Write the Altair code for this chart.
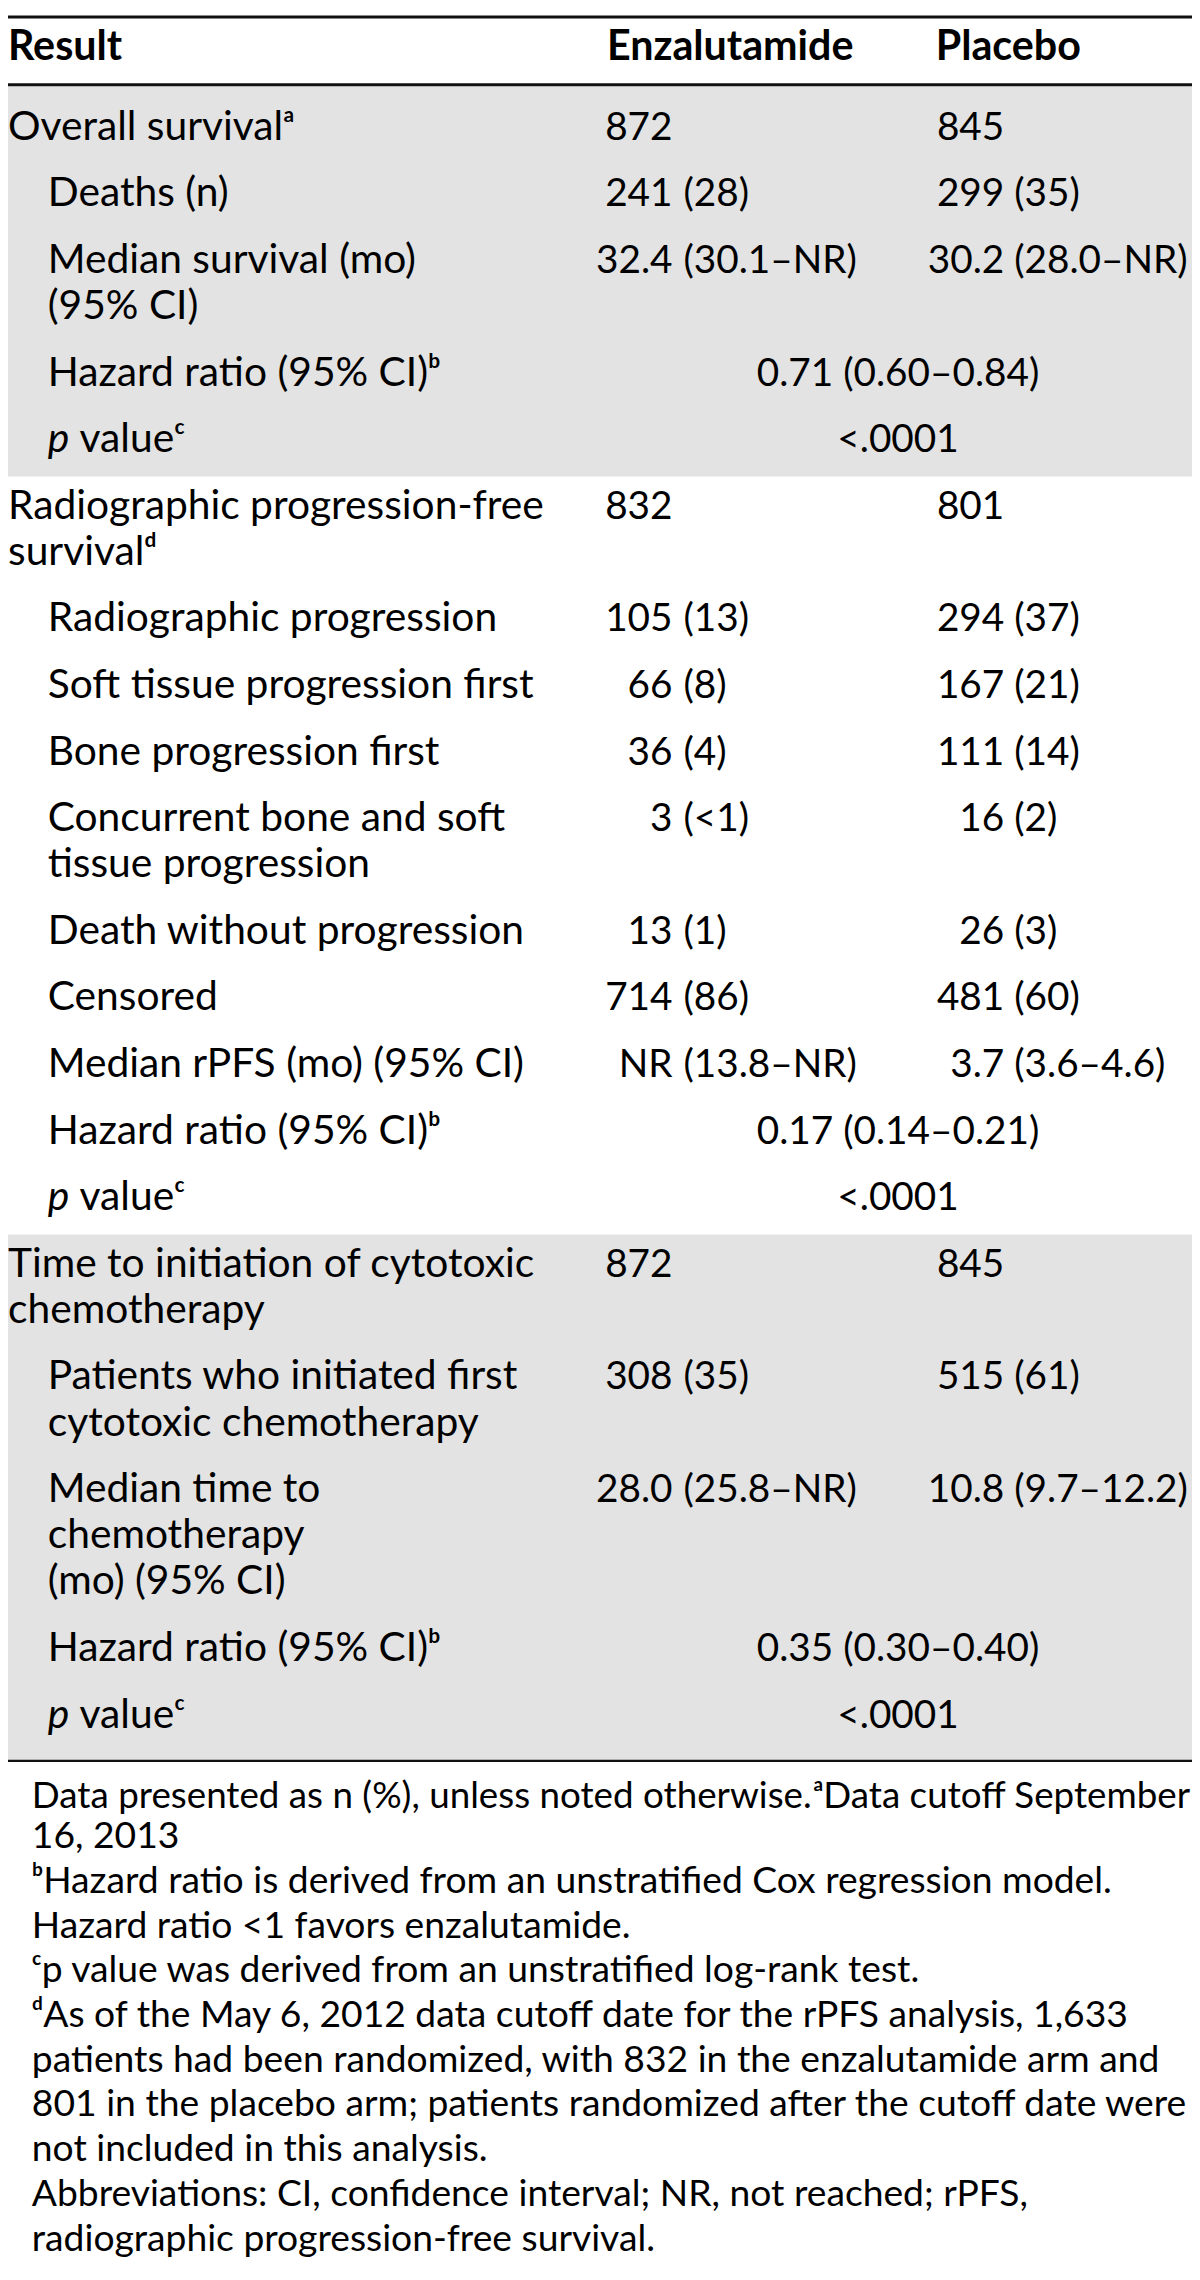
import altair as alt
import pandas as pd

# ---------------- content ----------------
HEADER = ["Result", "Enzalutamide", "Placebo"]

ROW_LABELS = [
    "Overall survivalᵃ",
    "Deaths (n)",
    "Median survival (mo)\n(95% CI)",
    "Hazard ratio (95% CI)ᵇ",
    "p valueᶜ",
    "Radiographic progression-free\nsurvivalᵈ",
    "Radiographic progression",
    "Soft tissue progression first",
    "Bone progression first",
    "Concurrent bone and soft\ntissue progression",
    "Death without progression",
    "Censored",
    "Median rPFS (mo) (95% CI)",
    "Hazard ratio (95% CI)ᵇ",
    "p valueᶜ",
    "Time to initiation of cytotoxic\nchemotherapy",
    "Patients who initiated first\ncytotoxic chemotherapy",
    "Median time to\nchemotherapy\n(mo) (95% CI)",
    "Hazard ratio (95% CI)ᵇ",
    "p valueᶜ",
]
ROW_LEVEL = [0, 1, 1, 1, 1,
             0, 1, 1, 1, 1, 1, 1, 1, 1, 1,
             0, 1, 1, 1, 1]
ROW_SECTION = [0] * 5 + [1] * 10 + [2] * 5
SECTION_SHADED = [True, False, True]

ENZ_VALUES = ["872", "241 (28)", "32.4 (30.1–NR)", "", "",
              "832", "105 (13)", "66 (8)", "36 (4)", "3 (<1)", "13 (1)",
              "714 (86)", "NR (13.8–NR)", "", "",
              "872", "308 (35)", "28.0 (25.8–NR)", "", ""]
PLA_VALUES = ["845", "299 (35)", "30.2 (28.0–NR)", "", "",
              "801", "294 (37)", "167 (21)", "111 (14)", "16 (2)", "26 (3)",
              "481 (60)", "3.7 (3.6–4.6)", "", "",
              "845", "515 (61)", "10.8 (9.7–12.2)", "", ""]
BOTH_ARMS = ["", "", "", "0.71 (0.60–0.84)", "<.0001",
             "", "", "", "", "", "", "", "", "0.17 (0.14–0.21)", "<.0001",
             "", "", "", "0.35 (0.30–0.40)", "<.0001"]

FOOTNOTE_FIRST_LEFT = "Data presented as n (%), unless noted otherwise."
FOOTNOTE_FIRST_RIGHT = "ᵃData cutoff September"
FOOTNOTE_LINES = [
    "16, 2013",
    "ᵇHazard ratio is derived from an unstratified Cox regression model.",
    "Hazard ratio <1 favors enzalutamide.",
    "ᶜp value was derived from an unstratified log-rank test.",
    "ᵈAs of the May 6, 2012 data cutoff date for the rPFS analysis, 1,633",
    "patients had been randomized, with 832 in the enzalutamide arm and",
    "801 in the placebo arm; patients randomized after the cutoff date were",
    "not included in this analysis.",
    "Abbreviations: CI, confidence interval; NR, not reached; rPFS,",
    "radiographic progression-free survival.",
]

# ---------------- layout ----------------
FONT = "Lato"
FS = 41
FS_VAL = 39
FS_HEAD = 41.5
FS_NOTE = 37.5
FS_NOTE_FIRST = 37
X_LEFT, X_INDENT, P_GAP = 8, 48, 32
HEAD_X = [8, 611, 942]
ENZ_NUM_R, ENZ_PAR_L = 677, 688
PLA_NUM_R, PLA_PAR_L = 1011, 1021
SPAN_C = 904
Y_HEADER, Y_FIRST = 53, 133
ROW_STEP, LINE_STEP = 67, 46.5
SECTION_TOP_PAD, SECTION_BOTTOM_PAD, LAST_BOTTOM_PAD = 42.5, 24.5, 33.5
NOTE_X, NOTE_RIGHT = 32, 1198
NOTE_Y0, NOTE_Y1, NOTE_STEP = 1812, 1853, 45
W_REF, H_REF, MARGIN = 1200, 2280, 8

# compute row baselines
baselines = []
y = Y_FIRST
for lab in ROW_LABELS:
    baselines.append(y)
    y += ROW_STEP + LINE_STEP * (lab.count("\n"))

left_rows, val_left, val_right, center_rows, italic_rows, bold_rows = [], [], [], [], [], []
for h, hx in zip(HEADER, HEAD_X):
    bold_rows.append({"x": hx, "y": Y_HEADER, "t": h})


def split_val(v):
    if "(" in v:
        i = v.index("(")
        return v[:i].strip(), v[i:]
    return v, ""


for i, lab in enumerate(ROW_LABELS):
    b = baselines[i]
    lx = X_LEFT if ROW_LEVEL[i] == 0 else X_INDENT
    for k, line in enumerate(lab.split("\n")):
        ly = b + k * LINE_STEP
        if line.startswith("p value"):
            italic_rows.append({"x": lx, "y": ly, "t": "p"})
            left_rows.append({"x": lx + P_GAP, "y": ly, "t": line[2:]})
        else:
            left_rows.append({"x": lx, "y": ly, "t": line})
    for val, nr, pl in ((ENZ_VALUES[i], ENZ_NUM_R, ENZ_PAR_L),
                        (PLA_VALUES[i], PLA_NUM_R, PLA_PAR_L)):
        if val:
            num, par = split_val(val)
            val_right.append({"x": nr, "y": b, "t": num})
            if par:
                val_left.append({"x": pl, "y": b, "t": par})
    if BOTH_ARMS[i]:
        center_rows.append({"x": SPAN_C, "y": b, "t": BOTH_ARMS[i]})

# section bands
bands = []
header_rule_y = 77.5
for s, shaded in enumerate(SECTION_SHADED):
    idx = [i for i, sec in enumerate(ROW_SECTION) if sec == s]
    first, last = idx[0], idx[-1]
    top = header_rule_y + 1.5 if s == 0 else baselines[first] - SECTION_TOP_PAD
    last_lines = ROW_LABELS[last].count("\n")
    if s == len(SECTION_SHADED) - 1:
        bot = baselines[last] + LAST_BOTTOM_PAD
    else:
        bot = baselines[last] + last_lines * LINE_STEP + SECTION_BOTTOM_PAD
    if shaded:
        bands.append({"x": MARGIN, "x2": W_REF, "y": top, "y2": bot})
table_bottom = baselines[-1] + LAST_BOTTOM_PAD

rules = [
    {"x": MARGIN, "x2": W_REF, "y": MARGIN + 1.5, "w": 3},
    {"x": MARGIN, "x2": W_REF, "y": header_rule_y, "w": 3},
    {"x": MARGIN, "x2": W_REF, "y": table_bottom, "w": 2.2},
]

note_left = [{"x": NOTE_X, "y": NOTE_Y1 + j * NOTE_STEP, "t": line}
             for j, line in enumerate(FOOTNOTE_LINES)]
note_first_left = [{"x": NOTE_X, "y": NOTE_Y0, "t": FOOTNOTE_FIRST_LEFT}]
note_first_right = [{"x": NOTE_RIGHT, "y": NOTE_Y0, "t": FOOTNOTE_FIRST_RIGHT}]

# ---------------- chart ----------------
XS = alt.Scale(domain=[MARGIN, W_REF], nice=False, zero=False)
YS = alt.Scale(domain=[MARGIN, H_REF], nice=False, zero=False, reverse=True)


def X(f="x"):
    return alt.X(f + ":Q", scale=XS, axis=None)


def Y(f="y"):
    return alt.Y(f + ":Q", scale=YS, axis=None)


band_layer = alt.Chart(pd.DataFrame(bands)).mark_rect(color="#e3e3e3").encode(
    x=X(), x2="x2:Q", y=Y(), y2="y2:Q")

rule_layer = alt.Chart(pd.DataFrame(rules)).mark_rule(color="#111111").encode(
    x=X(), x2="x2:Q", y=Y(), strokeWidth=alt.StrokeWidth("w:Q", scale=None))


def text_layer(rows, align, size, weight="normal", style="normal"):
    return alt.Chart(pd.DataFrame(rows)).mark_text(
        align=align, baseline="alphabetic", font=FONT, fontSize=size,
        fontWeight=weight, fontStyle=style, color="#000000"
    ).encode(x=X(), y=Y(), text="t:N")


chart = alt.layer(
    band_layer,
    rule_layer,
    text_layer(bold_rows, "left", FS_HEAD, weight="bold"),
    text_layer(left_rows, "left", FS),
    text_layer(val_left, "left", FS_VAL),
    text_layer(val_right, "right", FS_VAL),
    text_layer(center_rows, "center", FS_VAL),
    text_layer(italic_rows, "left", FS, style="italic"),
    text_layer(note_left, "left", FS_NOTE),
    text_layer(note_first_left, "left", FS_NOTE_FIRST),
    text_layer(note_first_right, "right", FS_NOTE_FIRST),
).properties(
    width=W_REF - MARGIN, height=H_REF - MARGIN,
    autosize=alt.AutoSizeParams(type="none"), padding=0, background="white"
).configure_view(strokeWidth=0)

chart.save("out.html", embed_options={"renderer": "svg", "actions": False})
